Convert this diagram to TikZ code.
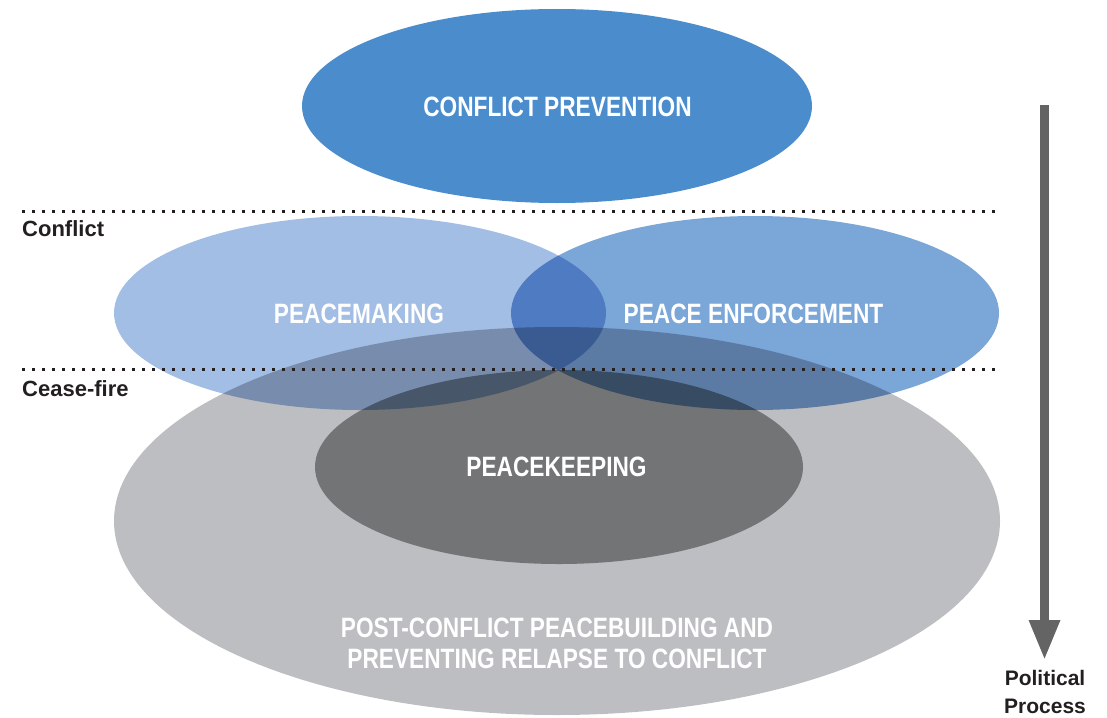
\documentclass[tikz,border=0pt]{standalone}
\usepackage{fontspec}
\usetikzlibrary{arrows.meta}
\newfontfamily\condfont[FakeStretch=0.81]{Liberation Sans}
\newfontfamily\labfont{Liberation Sans}
\definecolor{cprev}{HTML}{4A8CCC}
\definecolor{pmake}{HTML}{A2BEE4}
\definecolor{penf}{HTML}{7BA6D8}
\definecolor{pbuild}{HTML}{BDBEC2}
\definecolor{pkeep}{HTML}{9B9C9B}
\definecolor{dotcol}{HTML}{231F20}
\definecolor{arrcol}{HTML}{646464}
\tikzset{
  bigtext/.style={anchor=base,inner sep=0pt,text=white,font=\condfont\bfseries\fontsize{28}{32}\selectfont},
  smalltext/.style={anchor=base west,inner sep=0pt,text=dotcol,font=\labfont\bfseries\fontsize{22}{26}\selectfont},
  sidetext/.style={anchor=base,inner sep=0pt,text=dotcol,font=\labfont\bfseries\fontsize{21}{25}\selectfont},
  divider/.style={draw=dotcol,line width=3pt,dash pattern=on 3pt off 7pt},
  procarrow/.style={draw=arrcol,line width=9pt,-{Triangle[width=29pt,length=40pt]},arrcol}
}
\begin{document}
\begin{tikzpicture}[x=1pt,y=-1pt]
\useasboundingbox (0,0) rectangle (1107,717);
% top ellipse
\fill[cprev] (557,106) ellipse [x radius=255, y radius=97];
% overlapping ellipses, multiplied
\begin{scope}[blend group=multiply]
\fill[pmake] (360,313) ellipse [x radius=246, y radius=97];
\fill[penf] (755,313) ellipse [x radius=244, y radius=97];
\fill[pbuild] (557,521) ellipse [x radius=443, y radius=194];
\fill[pkeep] (559,467) ellipse [x radius=244, y radius=97];
\end{scope}
% dividers
\coordinate (d1a) at (22,211); \coordinate (d1b) at (999,211);
\coordinate (d2a) at (22,369); \coordinate (d2b) at (999,369);
\draw[divider] (d1a) -- (d1b);
\draw[divider] (d2a) -- (d2b);
% labels
\node[bigtext] (tprev) at (557.5,116.7) {CONFLICT PREVENTION};
\node[bigtext] (tmake) at (359,323) {PEACEMAKING};
\node[bigtext] (tenf) at (753.5,323) {PEACE ENFORCEMENT};
\node[bigtext] (tkeep) at (556.5,476.5) {PEACEKEEPING};
\node[bigtext] (tbuild1) at (557,637) {POST-CONFLICT PEACEBUILDING AND};
\node[bigtext] (tbuild2) at (557,668) {PREVENTING RELAPSE TO CONFLICT};
\node[smalltext] (lconf) at (22,236) {Conflict};
\node[smalltext] (lcease) at (22,396) {Cease-fire};
% arrow
\coordinate (atop) at (1044.5,105);
\coordinate (abot) at (1044.5,660);
\draw[procarrow] (atop) -- (abot);
\node[sidetext] (lpol) at (1045,685) {Political};
\node[sidetext] (lproc) at (1045,713) {Process};
\end{tikzpicture}
\end{document}
